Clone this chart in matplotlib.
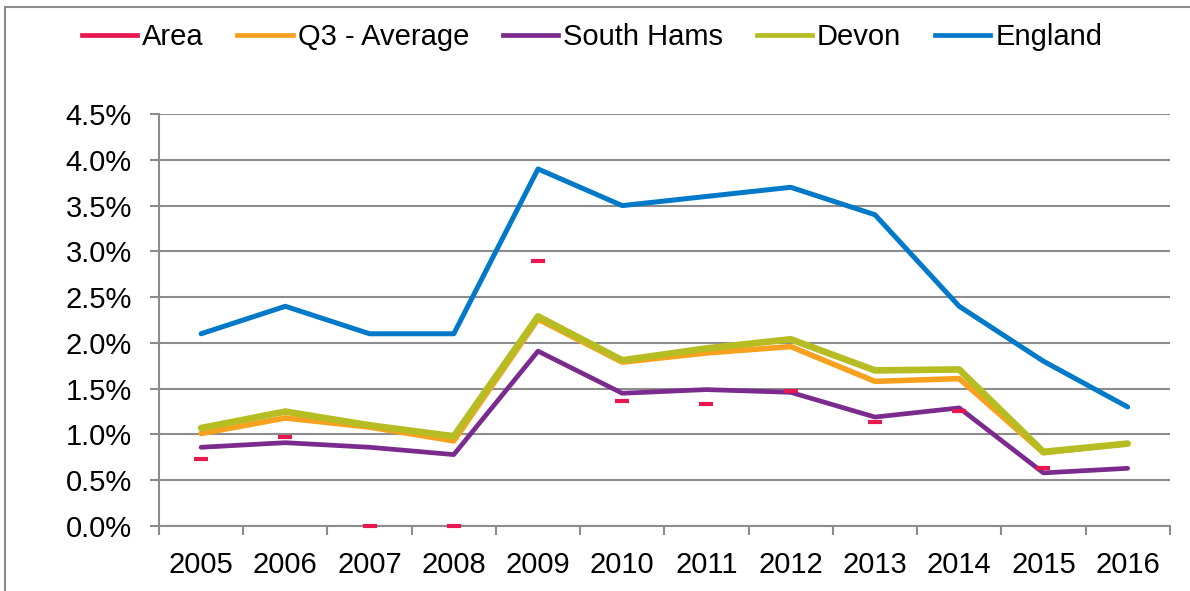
import matplotlib
matplotlib.use("Agg")
import matplotlib.pyplot as plt
from matplotlib.lines import Line2D
from matplotlib.patches import Rectangle
from matplotlib.ticker import FuncFormatter
import numpy as np

plt.rcParams["font.family"] = ["Liberation Sans", "DejaVu Sans"]

years = ["2005", "2006", "2007", "2008", "2009", "2010",
         "2011", "2012", "2013", "2014", "2015", "2016"]

# values in percent
area = [0.73, 0.97, 0.0, 0.0, 2.89, 1.36, 1.33, 1.47, 1.14, 1.26, 0.63, np.nan]
q3_avg = [1.01, 1.18, 1.08, 0.93, 2.26, 1.79, 1.89, 1.96, 1.58, 1.61, 0.80, 0.90]
south_hams = [0.86, 0.91, 0.86, 0.78, 1.91, 1.45, 1.49, 1.46, 1.19, 1.29, 0.58, 0.63]
devon = [1.07, 1.25, 1.10, 0.98, 2.29, 1.81, 1.94, 2.04, 1.70, 1.71, 0.81, 0.90]
england = [2.1, 2.4, 2.1, 2.1, 3.9, 3.5, 3.6, 3.7, 3.4, 2.4, 1.8, 1.3]

c_area = "#E8174F"
c_q3 = "#F7A11E"
c_sh = "#7B2A8E"
c_devon = "#B5BD23"
c_eng = "#0079C8"
grid_c = "#8C8C8C"
fs = 21

fig = plt.figure(figsize=(11.9, 5.91), dpi=100)
ax = fig.add_axes([0.1336, 0.11, 0.983 - 0.1336, 0.807 - 0.11])

x = np.arange(len(years))
ax.plot(x, england, color=c_eng, lw=3.6, solid_capstyle="round", zorder=3)
ax.plot(x, q3_avg, color=c_q3, lw=4.0, solid_capstyle="round", zorder=4)
ax.plot(x, devon, color=c_devon, lw=4.8, solid_capstyle="round", zorder=5)
ax.plot(x, south_hams, color=c_sh, lw=3.4, solid_capstyle="round", zorder=6)
ax.plot(x, area, color=c_area, ls="none", marker="_", ms=10, mew=3, zorder=7,
        clip_on=False)

ax.set_xlim(-0.5, len(years) - 0.5)
ax.set_ylim(0, 4.5)
ax.set_yticks(np.arange(0, 4.51, 0.5))
ax.yaxis.set_major_formatter(FuncFormatter(lambda v, p: "%.1f%%" % v))
ax.set_xticks(x)
ax.set_xticklabels(years)
ax.set_xticks(np.arange(-0.5, len(years), 1), minor=True)
ax.tick_params(axis="x", which="major", length=0, pad=18, labelsize=fs)
ax.tick_params(axis="x", which="minor", length=6.5, width=1.5, color=grid_c)
ax.tick_params(axis="y", length=6.5, width=1.5, color=grid_c, labelsize=fs, pad=13)

ax.grid(axis="y", color=grid_c, lw=1.5)
ax.set_axisbelow(True)
for s in ["top", "right"]:
    ax.spines[s].set_visible(False)
for s in ["left", "bottom"]:
    ax.spines[s].set_color(grid_c)
    ax.spines[s].set_linewidth(1.5)

handles = [
    Line2D([], [], color=c_area, lw=3.4),
    Line2D([], [], color=c_q3, lw=3.4),
    Line2D([], [], color=c_sh, lw=3.4),
    Line2D([], [], color=c_devon, lw=3.4),
    Line2D([], [], color=c_eng, lw=3.4),
]
labels = ["Area", "Q3 - Average", "South Hams", "Devon", "England"]
fig.legend(handles, labels, loc="center", bbox_to_anchor=(0.4975, 0.937),
           ncol=5, frameon=False, fontsize=fs, handlelength=1.9,
           handletextpad=0.17, columnspacing=1.15)

# outer chart border
fig.patches.append(Rectangle((5 / 1190, -0.02), 1.05, 1 - 7 / 591 + 0.02,
                             transform=fig.transFigure, fill=False,
                             edgecolor="#8C8C8C", lw=1.5))

fig.savefig("out.png", dpi=100)
